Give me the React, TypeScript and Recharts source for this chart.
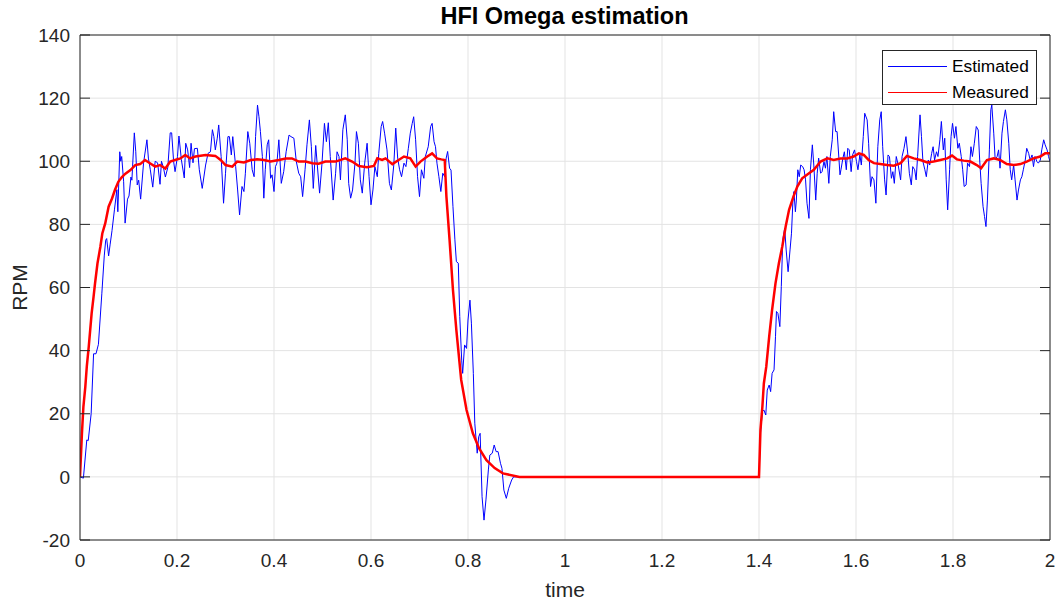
import React from "react";
import { LineChart, Line, XAxis, YAxis, CartesianGrid, Legend } from "recharts";

// Estimated speed (blue)
const estT = [
  0, 0.007, 0.014, 0.017, 0.023, 0.028, 0.033, 0.038, 0.045, 0.05, 0.053, 0.055, 0.059, 0.062, 0.066,
  0.071, 0.076, 0.078, 0.082, 0.084, 0.086, 0.09, 0.093, 0.098, 0.101, 0.105, 0.107, 0.112, 0.115,
  0.118, 0.121, 0.125, 0.131, 0.134, 0.138, 0.141, 0.145, 0.15, 0.155, 0.16, 0.165, 0.168, 0.172,
  0.176, 0.181, 0.186, 0.189, 0.193, 0.196, 0.201, 0.204, 0.209, 0.215, 0.218, 0.222, 0.226, 0.229,
  0.233, 0.236, 0.242, 0.246, 0.252, 0.259, 0.264, 0.269, 0.273, 0.276, 0.279, 0.283, 0.286, 0.291,
  0.296, 0.3, 0.305, 0.308, 0.312, 0.315, 0.321, 0.325, 0.329, 0.334, 0.338, 0.341, 0.346, 0.35,
  0.355, 0.359, 0.362, 0.366, 0.369, 0.372, 0.376, 0.379, 0.382, 0.386, 0.389, 0.393, 0.396, 0.4,
  0.403, 0.406, 0.41, 0.415, 0.42, 0.425, 0.431, 0.435, 0.441, 0.446, 0.451, 0.455, 0.459, 0.464,
  0.468, 0.473, 0.477, 0.481, 0.486, 0.494, 0.499, 0.504, 0.508, 0.512, 0.516, 0.522, 0.527, 0.53,
  0.534, 0.537, 0.542, 0.547, 0.551, 0.554, 0.558, 0.562, 0.567, 0.57, 0.574, 0.578, 0.582, 0.587,
  0.592, 0.596, 0.6, 0.604, 0.608, 0.613, 0.616, 0.621, 0.624, 0.628, 0.633, 0.638, 0.642, 0.647,
  0.651, 0.655, 0.659, 0.663, 0.668, 0.672, 0.677, 0.681, 0.685, 0.688, 0.692, 0.696, 0.7, 0.704,
  0.709, 0.712, 0.718, 0.723, 0.726, 0.73, 0.733, 0.736, 0.74, 0.744, 0.748, 0.752, 0.755, 0.758,
  0.762, 0.765, 0.769, 0.773, 0.776, 0.78, 0.783, 0.787, 0.789, 0.793, 0.797, 0.8, 0.804, 0.807,
  0.811, 0.814, 0.819, 0.822, 0.825, 0.829, 0.833, 0.837, 0.842, 0.845, 0.85, 0.854, 0.858, 0.862,
  0.867, 0.87, 0.874, 0.879, 0.884, 0.89, 0.894, 1.2, 1.4, 1.403, 1.407, 1.41, 1.414, 1.417, 1.421,
  1.424, 1.427, 1.431, 1.434, 1.436, 1.439, 1.443, 1.446, 1.449, 1.453, 1.456, 1.46, 1.464, 1.467,
  1.47, 1.472, 1.475, 1.477, 1.48, 1.483, 1.486, 1.49, 1.493, 1.496, 1.499, 1.503, 1.506, 1.51,
  1.513, 1.517, 1.52, 1.523, 1.527, 1.53, 1.534, 1.537, 1.54, 1.544, 1.547, 1.551, 1.554, 1.558,
  1.561, 1.565, 1.567, 1.569, 1.573, 1.576, 1.58, 1.583, 1.586, 1.59, 1.593, 1.597, 1.601, 1.604,
  1.608, 1.611, 1.615, 1.618, 1.623, 1.626, 1.63, 1.633, 1.637, 1.641, 1.645, 1.649, 1.652, 1.655,
  1.659, 1.662, 1.666, 1.669, 1.673, 1.676, 1.679, 1.683, 1.687, 1.692, 1.695, 1.699, 1.703, 1.707,
  1.71, 1.714, 1.717, 1.721, 1.724, 1.727, 1.732, 1.735, 1.738, 1.742, 1.745, 1.749, 1.752, 1.756,
  1.759, 1.762, 1.766, 1.769, 1.773, 1.776, 1.78, 1.783, 1.786, 1.789, 1.793, 1.796, 1.799, 1.803,
  1.806, 1.81, 1.813, 1.817, 1.82, 1.823, 1.827, 1.83, 1.834, 1.837, 1.84, 1.844, 1.848, 1.852,
  1.855, 1.858, 1.862, 1.865, 1.868, 1.871, 1.875, 1.878, 1.88, 1.884, 1.887, 1.891, 1.894, 1.897,
  1.901, 1.904, 1.908, 1.911, 1.915, 1.918, 1.921, 1.925, 1.928, 1.932, 1.935, 1.939, 1.942, 1.945,
  1.949, 1.952, 1.956, 1.959, 1.963, 1.966, 1.969, 1.973, 1.976, 1.98, 1.983, 1.987, 1.99, 1.994,
  1.997, 2,
];
const estV = [
  0, -0.4, 11.7, 11.5, 20, 39, 39, 42, 58, 70, 75, 75.5, 70, 73.5, 78,
  84.6, 91, 84, 103, 100, 101.5, 93.5, 80.4, 88, 89, 95, 94, 109, 103,
  92.5, 94, 88, 99.4, 102.6, 106.8, 101, 97.3, 91.8, 100, 99.5, 92.7, 100, 98,
  95, 98, 109, 109, 100, 96.7, 101.5, 108, 100.5, 94.7, 105.7, 103.6, 98, 105.7,
  99.5, 104, 104.1, 97.3, 91.4, 98.8, 102.5, 103, 110, 107.8, 103.6, 107.3, 111.5, 101.5,
  86.7, 96.2, 107.8, 107.8, 102, 107.8, 98.3, 90.9, 83, 92, 90.4, 96.2, 109.4, 105.7,
  97.3, 95.1, 107.8, 117.8, 114.1, 109.4, 101.5, 88.3, 97.3, 105.2, 106.8, 94.6, 95.7, 90.4,
  98.3, 99.4, 106.8, 93, 96.7, 103, 108.3, 107.8, 107.3, 99.9, 96.2, 95.1, 88.8, 97.3,
  105.2, 113.1, 104.6, 91.4, 105, 89.9, 99.4, 112, 106.2, 112.2, 101.5, 87.7, 96.2, 103,
  101.5, 94.1, 110, 114.7, 106.8, 93, 88.3, 90.9, 99.4, 109.4, 105.7, 94.1, 89.9, 99.4,
  105.7, 95.1, 86.2, 90.9, 98.3, 95.1, 102.5, 111, 112.6, 108.9, 103.6, 93, 90.9, 98.8,
  110.5, 101, 97.3, 95.1, 99.4, 98.3, 104.1, 108.9, 112, 114.1, 106.8, 95.1, 88.8, 97.3,
  94.6, 101.5, 104.6, 111, 112, 106.2, 104.6, 99.4, 95.1, 90.4, 96.2, 95.1, 101, 103.1,
  97.8, 97.2, 85.6, 75.1, 68.2, 67.7, 50.8, 37, 32.8, 41.8, 40.7, 49.7, 56, 48.7,
  32.8, 17, 7.5, 12.7, 13.8, -6.3, -13.7, -7.3, 2.2, 6.9, 7.5, 10.1, 8, 8,
  4.3, 2.7, -4.2, -6.8, -3.6, -1, 0, 0, 0, 13.8, 20.7, 21.2, 19.6, 27.5, 29.1,
  27, 32.8, 33.9, 44.4, 52.4, 51.8, 47.6, 60.3, 75.1, 78.8, 71.9, 65, 71.9, 77.2,
  87.7, 90.4, 84, 87.7, 97.3, 95.1, 98.8, 98.3, 97.3, 94.1, 86.7, 81.9, 97.3, 105.2,
  98.8, 87.7, 96.2, 101, 96.2, 96.7, 99.9, 97.8, 101.5, 93, 101.5, 106.8, 115.7, 109.4,
  109.4, 100.4, 95.7, 97.3, 101, 103, 97.3, 104.1, 103.6, 96.7, 102, 103.6, 99.9, 97.3,
  102, 98.8, 107.8, 115.2, 113.1, 105.7, 92, 95.1, 94.1, 86.7, 104.6, 113.1, 115.7, 104.6,
  94.1, 89.3, 102, 101.5, 94.6, 96.7, 93, 101.5, 98.8, 94.1, 101.5, 104.1, 107.8, 102,
  96.2, 92.5, 98.3, 97.3, 94.1, 101.5, 114.7, 107.8, 99.9, 97.3, 95.1, 100.4, 98.8, 102.5,
  104.6, 100.4, 103, 101.5, 106.8, 112.6, 103.6, 107.3, 94.1, 84.6, 97.3, 107.8, 112, 107.3,
  111, 104.1, 105.7, 101.5, 97.3, 92, 92.5, 99.4, 98.3, 104.6, 101.5, 105.7, 111, 109.9,
  100.4, 93, 85.6, 82.5, 79.3, 87.7, 103.6, 116.3, 117.8, 108.9, 100.4, 101.5, 103.6, 97.8,
  108.9, 112.6, 116.3, 113.1, 105.7, 97.3, 94.1, 98.8, 94.1, 87.7, 90.9, 94.1, 95.1, 97.3,
  100.4, 104.1, 102.5, 100.4, 102, 98.3, 101.5, 99.9, 99.4, 100.4, 103.6, 106.8, 105.2, 103.6,
  101.5, 99.9,
];

// Measured speed (red)
const measT = [
  0, 0.004, 0.007, 0.011, 0.014, 0.018, 0.021, 0.024, 0.028, 0.031, 0.036, 0.042, 0.046, 0.052,
  0.059, 0.066, 0.072, 0.079, 0.086, 0.093, 0.104, 0.114, 0.124, 0.134, 0.145, 0.155, 0.165, 0.176,
  0.186, 0.196, 0.207, 0.217, 0.227, 0.238, 0.259, 0.279, 0.29, 0.3, 0.314, 0.324, 0.338, 0.352,
  0.365, 0.379, 0.393, 0.41, 0.424, 0.437, 0.451, 0.465, 0.479, 0.492, 0.506, 0.527, 0.547, 0.561,
  0.575, 0.592, 0.606, 0.613, 0.623, 0.63, 0.644, 0.657, 0.668, 0.681, 0.692, 0.702, 0.716, 0.726,
  0.736, 0.745, 0.752, 0.7555, 0.762, 0.769, 0.776, 0.786, 0.797, 0.81, 0.823, 0.838, 0.855, 0.872,
  0.906, 1.2, 1.4, 1.403, 1.407, 1.41, 1.415, 1.421, 1.427, 1.434, 1.441, 1.448, 1.455, 1.462,
  1.471, 1.479, 1.489, 1.499, 1.513, 1.527, 1.541, 1.554, 1.568, 1.582, 1.595, 1.606, 1.616, 1.626,
  1.637, 1.65, 1.664, 1.678, 1.692, 1.705, 1.719, 1.733, 1.747, 1.76, 1.774, 1.788, 1.798, 1.808,
  1.822, 1.836, 1.849, 1.858, 1.87, 1.884, 1.897, 1.911, 1.925, 1.939, 1.952, 1.966, 1.98, 1.99, 2,
];
const measV = [
  0, 13.8, 22.2, 28.6, 34.9, 41.2, 46.5, 51.8, 57.1, 61.3, 67.6, 72.9, 77.1, 80.3,
  85.6, 88.2, 90.9, 93.5, 94.9, 96, 97.2, 98.8, 99.1, 100.4, 99.3, 98.3, 98.8, 97.7,
  99.9, 100.4, 100.9, 102, 100.9, 101.5, 102, 101.7, 100.4, 98.8, 98.3, 99.9, 99.6, 100.4,
  100.6, 100.4, 99.9, 100.4, 100.9, 100.9, 99.9, 99.9, 99.4, 99.2, 99.9, 99.9, 100.9, 99.9,
  98.5, 98.1, 98.5, 100.9, 100.4, 100.9, 99.1, 100.4, 101.5, 100.9, 98.3, 99.9, 101.5, 102.5,
  100.9, 100.6, 100.4, 88.8, 75.1, 59.2, 46.5, 30.7, 21.2, 13.8, 9, 5.3, 2.8, 1.1,
  0, 0, 0, 14.9, 22.3, 29.6, 34.9, 44.4, 52.9, 61.3, 67.7, 73, 79.3, 84.6,
  88.8, 92, 94.6, 95.7, 97.3, 99.9, 100.9, 100.4, 100.9, 100.9, 101.5, 102.5, 102, 100.4,
  99.4, 99.1, 98.8, 98.6, 99.4, 101.7, 100.9, 100.4, 99.6, 99.9, 100.4, 100.9, 101.8, 100.6,
  100.2, 99.9, 98.8, 97.8, 100.4, 100.9, 100.4, 99.1, 98.8, 99.1, 99.9, 100.9, 101.5, 102.5, 102.5,
];

const xTicks = [0, 0.2, 0.4, 0.6, 0.8, 1, 1.2, 1.4, 1.6, 1.8, 2];
const yTicks = [-20, 0, 20, 40, 60, 80, 100, 120, 140];

const estData = estT.map((t, i) => ({ t, v: estV[i] }));
const measData = measT.map((t, i) => ({ t, v: measV[i] }));

const FONT = '"Liberation Sans", Arial, Helvetica, sans-serif';
const AX = "#262626";

const noTick = () => <g />;

const renderLegend = (props: any) => {
  const items = props.payload || [];
  return (
    <div
      style={{
        border: `1px solid ${AX}`,
        background: "#fff",
        width: 155,
        height: 55,
        boxSizing: "border-box",
        paddingTop: 2,
        fontFamily: FONT,
      }}
    >
      {items.map((it: any) => (
        <div key={it.value} style={{ display: "flex", alignItems: "center", height: 26 }}>
          <span style={{ display: "inline-block", marginLeft: 5, width: 59, height: 1, background: it.color }} />
          <span style={{ marginLeft: 5, fontSize: 17.3, color: "#000", lineHeight: "26px" }}>{it.value}</span>
        </div>
      ))}
    </div>
  );
};

export default function App() {
  return (
    <div style={{ position: "absolute", left: 0, top: 0, width: 1056, height: 604, background: "#fff", fontFamily: FONT }}>
      <div
        style={{
          position: "absolute",
          left: 0,
          top: 3,
          width: 1129,
          textAlign: "center",
          fontWeight: "bold",
          fontSize: 23.5,
          color: "#000",
          lineHeight: "26px",
        }}
      >
        HFI Omega estimation
      </div>
      <LineChart width={1056} height={604} margin={{ top: 35, right: 6, bottom: 0, left: 0 }}>
        <CartesianGrid xAxisId="x" yAxisId="y" stroke="#e3e3e3" />
        <XAxis
          xAxisId="x"
          type="number"
          dataKey="t"
          domain={[0, 2]}
          ticks={xTicks}
          allowDataOverflow
          height={64}
          tickLine={false}
          tickSize={0}
          tickMargin={14}
          axisLine={{ stroke: AX }}
          tick={{ fill: AX, fontSize: 19, fontFamily: FONT }}
          label={{ value: "time", position: "insideBottom", offset: 7, fill: AX, fontSize: 21, fontFamily: FONT }}
        />
        <XAxis
          xAxisId="xb"
          type="number"
          domain={[0, 2]}
          ticks={xTicks}
          allowDataOverflow
          orientation="bottom"
          mirror
          height={20}
          tick={noTick}
          tickSize={10}
          tickLine={{ stroke: AX }}
          axisLine={false}
        />
        <XAxis
          xAxisId="xt"
          type="number"
          domain={[0, 2]}
          ticks={xTicks}
          allowDataOverflow
          orientation="top"
          mirror
          height={20}
          tick={noTick}
          tickSize={10}
          tickLine={{ stroke: AX }}
          axisLine={{ stroke: AX }}
        />
        <YAxis
          yAxisId="y"
          type="number"
          domain={[-20, 140]}
          ticks={yTicks}
          allowDataOverflow
          width={80}
          tickLine={false}
          tickSize={0}
          tickMargin={10}
          axisLine={{ stroke: AX }}
          tick={{ fill: AX, fontSize: 19, fontFamily: FONT }}
          label={{
            value: "RPM",
            angle: -90,
            position: "insideLeft",
            offset: 20,
            fill: AX,
            fontSize: 21,
            fontFamily: FONT,
            style: { textAnchor: "middle" },
          }}
        />
        <YAxis
          yAxisId="yl"
          type="number"
          domain={[-20, 140]}
          ticks={yTicks}
          allowDataOverflow
          orientation="left"
          mirror
          width={20}
          tick={noTick}
          tickSize={10}
          tickLine={{ stroke: AX }}
          axisLine={false}
        />
        <YAxis
          yAxisId="yr"
          type="number"
          domain={[-20, 140]}
          ticks={yTicks}
          allowDataOverflow
          orientation="right"
          mirror
          width={20}
          tick={noTick}
          tickSize={10}
          tickLine={{ stroke: AX }}
          axisLine={{ stroke: AX }}
        />
        <Legend
          layout="horizontal"
          align="center"
          verticalAlign="middle"
          content={renderLegend}
          wrapperStyle={{ left: 882, top: 50, width: 155, height: 55 }}
        />
        <Line
          xAxisId="x"
          yAxisId="y"
          name="Estimated"
          data={estData}
          dataKey="v"
          type="linear"
          stroke="#0000ff"
          strokeWidth={1}
          dot={false}
          isAnimationActive={false}
        />
        <Line
          xAxisId="x"
          yAxisId="y"
          name="Measured"
          data={measData}
          dataKey="v"
          type="linear"
          stroke="#ff0000"
          strokeWidth={2.5}
          dot={false}
          isAnimationActive={false}
        />
      </LineChart>
    </div>
  );
}
